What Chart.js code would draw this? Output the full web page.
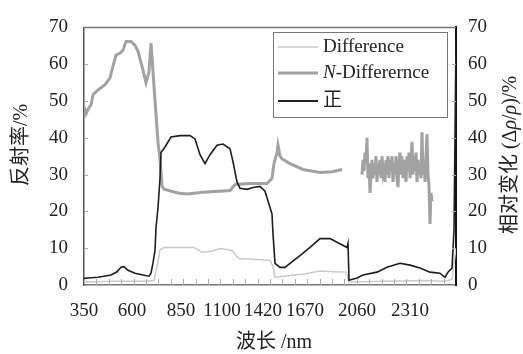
<!DOCTYPE html>
<html>
<head>
<meta charset="utf-8">
<script src="https://cdn.jsdelivr.net/npm/chart.js@4.4.1/dist/chart.umd.min.js"></script>
<style>
  html, body { margin: 0; padding: 0; background: #fff; }
  #grafico { display: block; }
</style>
</head>
<body>
<canvas id="grafico" width="523" height="354"></canvas>
<script>
// eixo x: posição ao longo do espectro (bandas de absorção da água removidas)
const tickPos = [0, 48, 97, 138, 179, 221, 273, 326];
const tickLabels = ['350', '600', '850', '1100', '1420', '1670', '2060', '2310'];
const posMax = 372;

// 正
const zhengPos = [0, 4, 14, 27, 33, 37, 40, 44, 51, 59, 65, 67, 69, 71, 72, 74, 76, 77, 81, 87, 96, 106, 111, 116, 121, 126, 133, 139, 146, 149, 153, 156, 163, 169, 176, 181, 184, 188, 189, 191, 196, 201, 206, 216, 226, 236, 246, 254, 263, 264, 265, 273, 279, 293, 303, 316, 326, 336, 346, 356, 361, 364, 368, 370, 371, 372];
const zhengVal = [1.8, 1.9, 2.1, 2.7, 3.6, 4.8, 5.0, 4.0, 3.2, 2.7, 2.4, 3.2, 6.0, 9.4, 15.5, 21, 29, 36, 37.5, 40.2, 40.6, 40.6, 39.7, 35.4, 33, 35.4, 38, 38.3, 37, 33.5, 28, 26.3, 26, 26.5, 26.8, 25.5, 22.8, 19.3, 13.9, 5.9, 4.8, 4.8, 5.9, 8, 10.2, 12.6, 12.6, 11.5, 10.2, 11.3, 1.3, 1.9, 2.7, 3.5, 4.8, 5.9, 5.4, 4.6, 3.5, 3.2, 2.1, 3.5, 4.6, 15, 40, 67];

// Difference
const diffPos = [0, 30, 60, 70, 73, 76, 80, 110, 118, 128, 136, 148, 152, 155, 170, 186, 189, 191, 200, 220, 236, 250, 262, 265, 300, 340, 360, 368, 372];
const diffVal = [0.8, 1.0, 1.0, 1.2, 5, 9.5, 10.2, 10.2, 8.9, 9.2, 9.9, 9.4, 8, 7.2, 7.0, 6.7, 5, 2.1, 2.4, 3.0, 3.8, 3.6, 3.5, 0.8, 1.0, 1.2, 1.0, 1.5, 10];

// N-Differernce (null = lacuna)
const nDiffPos = [0, 2, 4, 7, 9, 14, 21, 26, 29, 32, 36, 39, 42, 47, 51, 54, 59, 62, 65, 67, 68, 70, 72, 74, 76, 78, 80, 94, 103, 119, 146, 151, 166, 183, 188, 190, 193, 194, 196, 198, 206, 219, 236, 248, 258,
  268,
  278, 279, 280, 281, 282, 283, 284, 285, 286, 287, 288, 289, 290, 291, 292, 293, 294, 295, 296, 297, 298, 299, 300, 301, 302, 303, 304, 305, 306, 307, 308, 309, 310, 311, 312, 313,
  314, 315, 316, 317, 318, 319, 320, 321, 322, 323, 324, 325, 326, 327, 328, 329, 330, 331, 332, 333, 334, 335, 336, 337, 338, 339, 340, 341, 342, 343, 344, 345, 346, 347, 348];
const nDiffVal = [48.3, 46.5, 47.7, 49, 51.7, 53, 54.4, 56.3, 59.5, 62.5, 63, 63.8, 66.2, 66.2, 65.1, 63.5, 58.4, 55, 58, 65.7, 62, 54, 46.4, 38.9, 34.3, 27, 26, 25, 24.7, 25.2, 25.7, 27.3, 27.6, 27.6, 29, 33, 36, 38, 35, 34.3, 33, 31.4, 30.6, 30.8, 31.4,
  null,
  30, 34, 31, 36, 33, 40, 29, 33, 25, 30, 34, 29, 33, 30, 35, 28, 33, 30, 34, 29, 35, 31, 33, 28, 34, 30, 35, 29, 34, 31, 35, 28, 33, 30, 35, 29,
  26.6, 33, 36, 30, 35, 29, 34, 31, 28, 35, 31, 36, 29, 34, 38.9, 30, 35, 31, 36, 28, 34, 30, 33, 29, 41.5, 30, 34, 28, 35, 41, 30, 27, 16.6, 25, 22.8];

const serif = '"Liberation Serif", "Noto Sans CJK SC", serif';

function pontos(xs, ys) {
    return xs.map((x, i) => ({ x: x, y: ys[i] }));
}

// texto com trechos em itálico
function textoRico(ctx, partes, x, y, size, align) {
    let total = 0;
    partes.forEach(p => {
        ctx.font = (p.it ? 'italic ' : '') + size + 'px ' + serif;
        p.w = ctx.measureText(p.t).width;
        total += p.w;
    });
    let cx = align === 'center' ? x - total / 2 : x;
    ctx.textAlign = 'left';
    ctx.textBaseline = 'middle';
    partes.forEach(p => {
        ctx.font = (p.it ? 'italic ' : '') + size + 'px ' + serif;
        ctx.fillText(p.t, cx, y);
        cx += p.w;
    });
}

const extras = {
    id: 'extras',
    afterDraw(chart) {
        const ctx = chart.ctx;
        const a = chart.chartArea;
        const y = chart.scales.y;
        ctx.save();

        // moldura superior
        ctx.strokeStyle = '#777';
        ctx.lineWidth = 1.5;
        ctx.beginPath();
        ctx.moveTo(a.left, a.top);
        ctx.lineTo(a.right, a.top);
        ctx.stroke();

        // marcas internas
        ctx.strokeStyle = '#aaa';
        ctx.lineWidth = 1;
        for (let v = 10; v < 70; v += 10) {
            const py = Math.round(y.getPixelForValue(v)) + 0.5;
            ctx.beginPath();
            ctx.moveTo(a.left, py); ctx.lineTo(a.left + 4, py);
            ctx.moveTo(a.right, py); ctx.lineTo(a.right - 4, py);
            ctx.stroke();
        }
        const passo = (a.right - a.left) / 30;
        for (let i = 1; i < 30; i++) {
            const px = Math.round(a.left + i * passo) + 0.5;
            ctx.beginPath();
            ctx.moveTo(px, a.bottom); ctx.lineTo(px, a.bottom - 6);
            ctx.stroke();
        }

        // legenda
        ctx.fillStyle = '#fff';
        ctx.fillRect(273, 32, 174, 85);
        ctx.strokeStyle = '#777';
        ctx.lineWidth = 1;
        ctx.strokeRect(273.5, 32.5, 174, 85);
        const itens = [
            { cor: '#c8c8c8', w: 1.5, y: 47, partes: [{ t: 'Difference' }] },
            { cor: '#a2a2a2', w: 3, y: 73, partes: [{ t: 'N', it: true }, { t: '-Differernce' }] },
            { cor: '#222', w: 1.8, y: 101, partes: [{ t: '正' }] }
        ];
        itens.forEach(it => {
            ctx.strokeStyle = it.cor;
            ctx.lineWidth = it.w;
            ctx.beginPath();
            ctx.moveTo(278, it.y); ctx.lineTo(318, it.y);
            ctx.stroke();
            ctx.fillStyle = '#222';
            textoRico(ctx, it.partes, 323, it.y, 19, 'left');
        });

        // títulos dos eixos
        ctx.fillStyle = '#222';
        ctx.save();
        ctx.translate(22, 145);
        ctx.rotate(-Math.PI / 2);
        textoRico(ctx, [{ t: '反射率/%' }], 0, 0, 20, 'center');
        ctx.restore();

        ctx.save();
        ctx.translate(511, 155);
        ctx.rotate(-Math.PI / 2);
        textoRico(ctx, [{ t: '相对变化 (Δ' }, { t: 'ρ', it: true }, { t: '/' }, { t: 'ρ', it: true }, { t: ')/%' }], 0, 0, 20, 'center');
        ctx.restore();

        textoRico(ctx, [{ t: '波长 /nm' }], 274, 343, 20, 'center');
        ctx.restore();
    }
};

const ctx = document.getElementById('grafico').getContext('2d');
window.graficoRefl = new Chart(ctx, {
    type: 'line',
    data: {
        datasets: [
            {
                label: '正',
                data: pontos(zhengPos, zhengVal),
                borderColor: '#1e1e1e',
                borderWidth: 1.6,
                pointRadius: 0,
                tension: 0,
                yAxisID: 'y'
            },
            {
                label: 'N-Differernce',
                data: pontos(nDiffPos, nDiffVal),
                borderColor: '#a2a2a2',
                borderWidth: 3,
                pointRadius: 0,
                tension: 0,
                spanGaps: false,
                yAxisID: 'y2'
            },
            {
                label: 'Difference',
                data: pontos(diffPos, diffVal),
                borderColor: '#cacaca',
                borderWidth: 1.5,
                pointRadius: 0,
                tension: 0,
                yAxisID: 'y2'
            }
        ]
    },
    options: {
        responsive: false,
        animation: false,
        layout: { padding: { top: 24, left: 0, right: 0, bottom: 0 } },
        plugins: { legend: { display: false }, tooltip: { enabled: false } },
        scales: {
            x: {
                type: 'linear',
                min: 0,
                max: posMax,
                afterBuildTicks: (scale) => { scale.ticks = tickPos.map(v => ({ value: v })); },
                afterFit: (scale) => { scale.height = 69; },
                ticks: {
                    callback: (v, i) => tickLabels[i],
                    font: { family: serif, size: 19 },
                    color: '#222',
                    padding: 15,
                    maxRotation: 0,
                    autoSkip: false
                },
                grid: { display: false, drawTicks: false },
                border: { display: true, color: '#777', width: 1.5 }
            },
            y: {
                position: 'left',
                min: 0,
                max: 70,
                afterFit: (scale) => { scale.width = 84; },
                ticks: { stepSize: 10, font: { family: serif, size: 19 }, color: '#222', padding: 16 },
                grid: { display: false, drawTicks: false },
                border: { display: true, color: '#555', width: 1.5 }
            },
            y2: {
                position: 'right',
                min: 0,
                max: 70,
                afterFit: (scale) => { scale.width = 67; },
                ticks: { stepSize: 10, font: { family: serif, size: 19 }, color: '#222', padding: 12 },
                grid: { display: false, drawTicks: false },
                border: { display: true, color: '#111', width: 2 }
            }
        }
    },
    plugins: [extras]
});
</script>
</body>
</html>
